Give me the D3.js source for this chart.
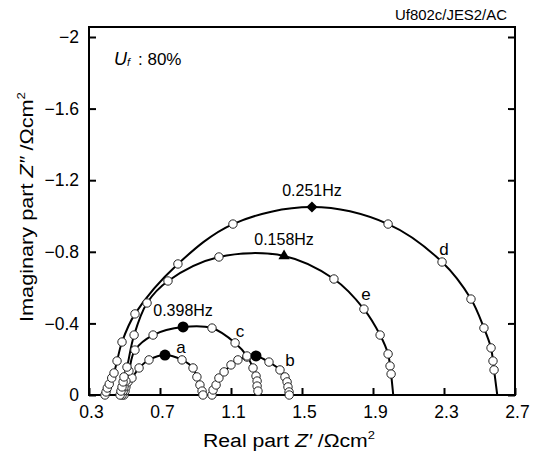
<!DOCTYPE html>
<html>
<head>
<meta charset="utf-8">
<script src="https://cdn.jsdelivr.net/npm/d3@7"></script>
<style>
  body { margin: 0; background: #fff; }
  text { font-family: "Liberation Sans", Arial, sans-serif; fill: #000; }
</style>
</head>
<body>
<div id="chart"></div>
<script>
// Nyquist plots, Uf 80%, curves a-e
const xTicks = [0.3, 0.7, 1.1, 1.5, 1.9, 2.3, 2.7]
const xTickLabels = ['0.3', '0.7', '1.1', '1.5', '1.9', '2.3', '2.7']
const yTicks = [0, -0.4, -0.8, -1.2, -1.6, -2]
const yTickLabels = ['0', '\u22120.4', '\u22120.8', '\u22121.2', '\u22121.6', '\u22122']

const seriesNames = ['a', 'b', 'c', 'd', 'e']

const aRe = [0.497, 0.503, 0.508, 0.520, 0.542, 0.582, 0.638, 0.728, 0.824, 0.886, 0.908, 0.925, 0.937, 0.942]
const aIm = [0, -0.022, -0.045, -0.073, -0.095, -0.151, -0.196, -0.223, -0.196, -0.151, -0.101, -0.056, -0.022, 0]

const bRe = [0.993, 0.999, 1.016, 1.032, 1.061, 1.100, 1.139, 1.190, 1.241, 1.314, 1.376, 1.404, 1.416, 1.421, 1.427, 1.428]
const bIm = [0, -0.028, -0.056, -0.095, -0.129, -0.168, -0.196, -0.212, -0.218, -0.184, -0.140, -0.101, -0.073, -0.045, -0.017, 0]

const cRe = [0.486, 0.492, 0.497, 0.508, 0.525, 0.559, 0.661, 0.830, 0.993, 1.123, 1.190, 1.224, 1.241, 1.247, 1.247, 1.252]
const cIm = [0, -0.022, -0.045, -0.078, -0.134, -0.251, -0.335, -0.380, -0.374, -0.291, -0.218, -0.151, -0.106, -0.078, -0.050, -0.022]

const dRe = [0.390, 0.396, 0.403, 0.414, 0.428, 0.441, 0.458, 0.486, 0.559, 0.801, 1.111, 1.556, 1.985, 2.289, 2.452, 2.525, 2.565, 2.576, 2.582]
const dIm = [0, -0.017, -0.039, -0.061, -0.095, -0.123, -0.190, -0.296, -0.453, -0.732, -0.955, -1.050, -0.955, -0.743, -0.536, -0.374, -0.263, -0.190, -0.140]

const eRe = [0.475, 0.480, 0.486, 0.492, 0.497, 0.514, 0.554, 0.627, 0.745, 1.032, 1.399, 1.680, 1.849, 1.940, 1.985, 1.996, 2.002]
const eIm = [0, -0.022, -0.045, -0.073, -0.101, -0.156, -0.335, -0.514, -0.637, -0.771, -0.777, -0.648, -0.480, -0.335, -0.229, -0.162, -0.117]

// low-frequency intercept of each drawn line (null = last point already on axis)
const lowFreqIntercept = [null, null, 1.253, 2.600, 2.014]
// index of the marked frequency point and its label
const markIndex = [7, 8, 7, 11, 10]
const markLabels = ['', '', '0.398Hz', '0.251Hz', '0.158Hz']

const allRe = [aRe, bRe, cRe, dRe, eRe]
const allIm = [aIm, bIm, cIm, dIm, eIm]

let svg = d3.select('#chart')
    .append('svg')
    .attr('width', 536)
    .attr('height', 457)

let xScale = d3.scaleLinear()
    .domain([0.3, 2.7])
    .range([89, 515])

let yScale = d3.scaleLinear()
    .domain([0, -2])
    .range([395, 37])

let plotTop = 27

// axes, ticks pointing inward
let xAxis = d3.axisBottom(xScale)
    .tickValues(xTicks)
    .tickSize(-7)
    .tickPadding(11)
    .tickFormat((d, i) => xTickLabels[i])

let yAxis = d3.axisLeft(yScale)
    .tickValues(yTicks)
    .tickSize(-7)
    .tickPadding(10)
    .tickFormat((d, i) => yTickLabels[i])

let yAxisRight = d3.axisRight(yScale)
    .tickValues(yTicks)
    .tickSize(-7)
    .tickFormat('')

let gx = svg.append('g')
    .attr('transform', 'translate(0,395)')
    .call(xAxis)
let gy = svg.append('g')
    .attr('transform', 'translate(89,0)')
    .call(yAxis)
let gyr = svg.append('g')
    .attr('transform', 'translate(515,0)')
    .call(yAxisRight)

svg.selectAll('.domain').remove()
svg.selectAll('.tick line').attr('stroke', '#000').attr('stroke-width', 2)
svg.selectAll('.tick text')
    .attr('font-size', 17.5)
    .attr('font-family', '"Liberation Sans", Arial, sans-serif')
    .attr('fill', '#000')
gx.selectAll('.tick text').attr('dx', 2)

svg.append('rect')
    .attr('x', 89)
    .attr('y', plotTop)
    .attr('width', 515 - 89)
    .attr('height', 395 - plotTop)
    .attr('fill', 'none')
    .attr('stroke', '#000')
    .attr('stroke-width', 2)

// lines
let line = d3.line()
    .x(d => xScale(d[0]))
    .y(d => yScale(d[1]))
    .curve(d3.curveCatmullRom.alpha(0.5))

seriesNames.forEach((name, s) => {
    let pts = allRe[s].map((v, i) => [v, allIm[s][i]])
    if (lowFreqIntercept[s] !== null) pts.push([lowFreqIntercept[s], 0])
    svg.append('path')
        .datum(pts)
        .attr('d', line)
        .attr('fill', 'none')
        .attr('stroke', '#000')
        .attr('stroke-width', 2)
})

// open markers
seriesNames.forEach((name, s) => {
    let pts = allRe[s].map((v, i) => [v, allIm[s][i], i])
        .filter(d => d[2] !== markIndex[s])
    svg.selectAll('.m' + name)
        .data(pts)
        .enter()
        .append('circle')
        .attr('class', 'm' + name)
        .attr('cx', d => xScale(d[0]))
        .attr('cy', d => yScale(d[1]))
        .attr('r', 4.2)
        .attr('fill', '#fff')
        .attr('stroke', '#222')
        .attr('stroke-width', 1)
})

// filled markers at the marked frequency
let symbols = [d3.symbolCircle, d3.symbolCircle, d3.symbolCircle, d3.symbolSquare, d3.symbolTriangle]
let symSize = [95, 95, 95, 62, 55]
let symRot = [0, 0, 0, 45, 0]
seriesNames.forEach((name, s) => {
    let k = markIndex[s]
    let px = xScale(allRe[s][k]), py = yScale(allIm[s][k])
    svg.append('path')
        .attr('d', d3.symbol().type(symbols[s]).size(symSize[s]))
        .attr('transform', `translate(${px},${py}) rotate(${symRot[s]})`)
        .attr('fill', '#000')
    if (markLabels[s]) {
        svg.append('text')
            .attr('x', px)
            .attr('y', py - 11)
            .attr('text-anchor', 'middle')
            .attr('font-size', 16)
            .text(markLabels[s])
    }
})

// curve letters
let letterPos = [[0.818, -0.268], [1.432, -0.196], [1.151, -0.358], [2.300, -0.816], [1.861, -0.564]]
seriesNames.forEach((name, s) => {
    svg.append('text')
        .attr('x', xScale(letterPos[s][0]))
        .attr('y', yScale(letterPos[s][1]))
        .attr('dy', '0.35em')
        .attr('text-anchor', 'middle')
        .attr('font-size', 17)
        .text(name)
})

// Uf : 80%
let uf = svg.append('text')
    .attr('x', 114)
    .attr('y', 65)
    .attr('font-size', 18)
uf.append('tspan').attr('font-style', 'italic').text('U')
uf.append('tspan').attr('font-style', 'italic').attr('font-size', 11).attr('dy', 1).text('f')
uf.append('tspan').attr('x', 138).attr('dy', -1).attr('font-size', 17).text(': 80%')

// file tag
svg.append('text')
    .attr('x', 507)
    .attr('y', 20)
    .attr('text-anchor', 'end')
    .attr('font-size', 14)
    .attr('textLength', 112)
    .attr('lengthAdjust', 'spacingAndGlyphs')
    .text('Uf802c/JES2/AC')

// axis titles
let xl = svg.append('text')
    .attr('x', 289)
    .attr('y', 447)
    .attr('text-anchor', 'middle')
    .attr('font-size', 18)
    .attr('textLength', 172)
    .attr('lengthAdjust', 'spacingAndGlyphs')
xl.append('tspan').text('Real part ')
xl.append('tspan').attr('font-style', 'italic').text('Z\u2032')
xl.append('tspan').text(' /\u03A9cm')
xl.append('tspan').attr('font-size', 11).attr('dy', -8).text('2')

let yl = svg.append('text')
    .attr('transform', 'translate(33,207) rotate(-90)')
    .attr('text-anchor', 'middle')
    .attr('font-size', 18)
    .attr('textLength', 230)
    .attr('lengthAdjust', 'spacingAndGlyphs')
yl.append('tspan').text('Imaginary part ')
yl.append('tspan').attr('font-style', 'italic').text('Z\u2033')
yl.append('tspan').text(' /\u03A9cm')
yl.append('tspan').attr('font-size', 11).attr('dy', -8).text('2')
</script>
</body>
</html>
